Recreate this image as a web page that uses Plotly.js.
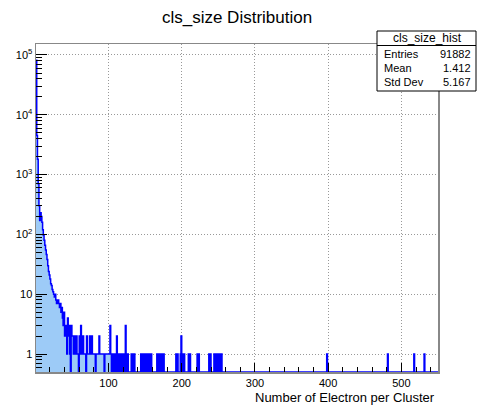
<!DOCTYPE html>
<html>
<head>
<meta charset="utf-8">
<script src="https://cdn.plot.ly/plotly-3.0.1.min.js"></script>
<style>html,body{margin:0;padding:0;background:#fff;}#chart{width:477px;height:405px;}</style>
</head>
<body>
<div id="chart"></div>
<script>
// Bin contents for bins 1..100 (bin width 1, bin k covers [k, k+1))
var headCounts = [
  82000, 4500, 1800, 700, 300, 170, 230, 200, 160, 120,
  97, 80, 66, 55, 46, 38, 30, 24, 21, 18,
  15, 14, 12, 11, 10, 9, 10, 8, 7, 8,
  8, 7, 6, 7, 5, 6, 4, 3, 5, 2,
  3, 2, 1, 4, 2, 3, 1, 0, 3, 2,
  2, 1, 2, 1, 1, 2, 1, 1, 0, 2,
  1, 3, 1, 1, 2, 1, 1, 1, 0, 2,
  1, 1, 1, 2, 1, 1, 2, 1, 1, 1,
  1, 0, 1, 1, 1, 1, 2, 1, 1, 1,
  1, 1, 1, 0, 1, 1, 1, 1, 1, 1
];
// Non-empty bins above 100
var tailBins = [101,102,103,106,107,109,111,113,114,116,118,119,121,123,124,126,131,132,135,
  144,145,147,148,150,152,155,156,158,166,167,169,170,172,173,175,192,194,198,199,201,203,
  209,211,221,223,237,239,244,246,248,250,252,254,398,481,517,531];
var tailCounts = [1,3,1,1,1,1,2,1,1,1,1,1,1,3,1,1,1,1,1,
  1,1,1,1,1,1,1,1,1,1,1,1,1,1,1,1,1,1,1,2,1,1,
  1,1,1,1,1,1,1,1,1,1,1,1,1,1,1,1];
var xMin = 1, xMax = 550;
var histName = 'cls_size_hist';
var statLabels = ['Entries', 'Mean', 'Std Dev'];
var statValues = ['91882', '1.412', '5.167'];
var yTickVals = [1, 10, 100, 1000, 10000, 100000];
var yTickText = ['1', '10', '10<sup>2</sup>', '10<sup>3</sup>', '10<sup>4</sup>', '10<sup>5</sup>'];

var yMin = 0.5, yMax = 1.527e5;
var counts = [];
for (var k = xMin; k < xMax; k++) counts.push(0);
headCounts.forEach(function (c, i) { counts[i] = c; });
tailBins.forEach(function (b, i) { counts[b - xMin] = tailCounts[i]; });
var xs = [], ys = [];
counts.forEach(function (c, i) { xs.push(xMin + i); ys.push(c > 0 ? c : yMin); });
xs.push(xMax); ys.push(ys[ys.length - 1]);

var W = 477, H = 405, L = 36, R = 438, T = 44, B = 372;
function px(x) { return (x - L) / (R - L); }
function py(y) { return (B - y) / (B - T); }
var font = 'Liberation Sans, Arial, sans-serif';

var trace = {
  x: xs, y: ys, type: 'scatter', mode: 'lines',
  line: {shape: 'hv', color: '#0000ff', width: 1.5, simplify: false},
  fill: 'tozeroy', fillcolor: '#9dcbf7', hoverinfo: 'skip'
};

var shapes = [
  {type: 'rect', xref: 'paper', yref: 'paper', x0: px(377), x1: px(476), y0: py(91), y1: py(31),
   line: {color: '#000', width: 1}, fillcolor: '#fff', layer: 'above'},
  {type: 'line', xref: 'paper', yref: 'paper', x0: px(377), x1: px(476), y0: py(45.5), y1: py(45.5),
   line: {color: '#000', width: 1}, layer: 'above'}
];
var annotations = [
  {text: histName, xref: 'paper', yref: 'paper', x: px(427), y: py(38), xanchor: 'center', yanchor: 'middle',
   showarrow: false, font: {family: font, size: 12, color: '#000'}},
  {text: 'Number of Electron per Cluster', xref: 'paper', yref: 'paper', x: px(437), y: py(397),
   xanchor: 'right', yanchor: 'middle', showarrow: false, font: {family: font, size: 13, color: '#000'}}
];
statLabels.forEach(function (lab, i) {
  var yy = 54 + i * 14;
  annotations.push({text: lab, xref: 'paper', yref: 'paper', x: px(382), y: py(yy), xanchor: 'left', yanchor: 'middle',
    showarrow: false, font: {family: font, size: 11, color: '#000'}});
  annotations.push({text: statValues[i], xref: 'paper', yref: 'paper', x: px(473), y: py(yy), xanchor: 'right', yanchor: 'middle',
    showarrow: false, font: {family: font, size: 11, color: '#000'}});
});

var layout = {
  width: W, height: H,
  margin: {l: L, r: W - R, t: T, b: H - B, pad: 0},
  paper_bgcolor: '#fff', plot_bgcolor: '#fff',
  showlegend: false,
  title: {text: 'cls_size Distribution', x: 0.497, xanchor: 'center', y: 1 - 17 / H, yanchor: 'middle',
    font: {family: font, size: 17, color: '#000'}},
  xaxis: {
    range: [xMin, xMax], tickmode: 'linear', tick0: 0, dtick: 100,
    ticks: 'inside', ticklen: 9, tickcolor: '#000', tickwidth: 1,
    showline: true, linecolor: '#888', linewidth: 1.5, mirror: true,
    showgrid: true, gridcolor: '#999', griddash: '1px,2px', gridwidth: 1,
    zeroline: false, tickfont: {family: font, size: 11, color: '#000'},
    minor: {dtick: 20, tick0: 0, ticks: 'inside', ticklen: 5, tickcolor: '#000', showgrid: false}
  },
  yaxis: {
    type: 'log', range: [Math.log10(yMin), Math.log10(yMax)],
    tickmode: 'array', tickvals: yTickVals, ticktext: yTickText,
    ticks: 'inside', ticklen: 11, tickcolor: '#000', tickwidth: 1,
    showline: true, linecolor: '#888', linewidth: 1.5, mirror: true,
    showgrid: true, gridcolor: '#999', griddash: '1px,2px', gridwidth: 1,
    zeroline: false, tickfont: {family: font, size: 11, color: '#000'},
    minor: {dtick: 'D1', ticks: 'inside', ticklen: 6, tickcolor: '#000', showgrid: false}
  },
  shapes: shapes,
  annotations: annotations
};

Plotly.newPlot('chart', [trace], layout, {displayModeBar: false, staticPlot: true});
</script>
</body>
</html>
